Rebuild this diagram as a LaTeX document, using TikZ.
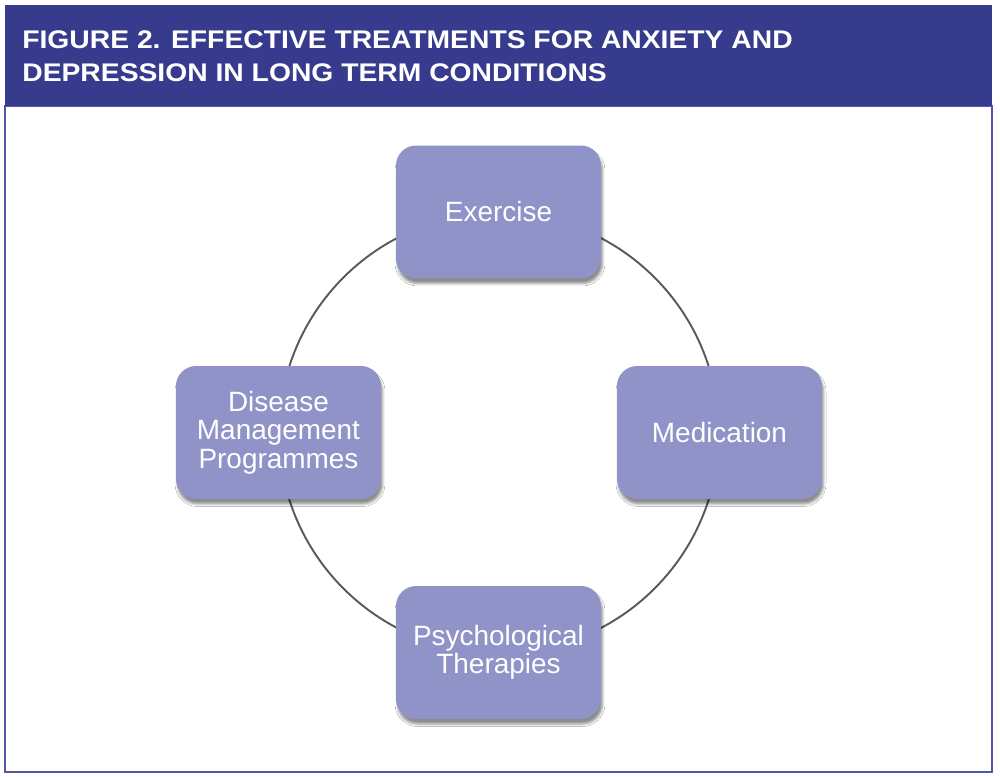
\documentclass[tikz,border=0pt]{standalone}
\usepackage{fontspec}
\setmainfont{Liberation Sans}
\newfontfamily\titlefont[FakeStretch=1.11]{Liberation Sans}
\usetikzlibrary{shadows.blur}
\definecolor{band}{RGB}{55,59,141}
\definecolor{boxfill}{RGB}{143,147,200}
\definecolor{ring}{RGB}{90,90,90}
\definecolor{framec}{RGB}{82,86,165}
\tikzset{
  treat/.style={rounded corners=0.4cm, fill=boxfill, minimum width=4.1cm, minimum height=2.66cm,
    text=white, align=center, font=\fontsize{15.9}{16.2}\selectfont, inner sep=0pt,
    blur shadow={shadow xshift=0.03cm, shadow yshift=-0.1cm, shadow blur radius=0.05cm, shadow opacity=45}},
  titletext/.style={text=white, align=left, font=\titlefont\bfseries\fontsize{14.5}{18.8}\selectfont, inner sep=0pt}
}
\begin{document}
\begin{tikzpicture}[x=0.02cm,y=-0.02cm]
\useasboundingbox (0,0) rectangle (1000,777);
\fill[white] (0,0) rectangle (1000,777);
\draw[framec, line width=1.2pt] (5,106) rectangle (992,772);
\fill[band] (5,5) rectangle (992,106);
\node[titletext, anchor=north west] (title) at (22,30.5) {FIGURE 2. EFFECTIVE TREATMENTS FOR ANXIETY AND\\DEPRESSION IN LONG TERM CONDITIONS};
\coordinate (c) at (499,433);
\draw[ring, line width=1.1pt] (c) circle [radius=4.4cm];
\node[treat] (ex) at (498.5,212) {Exercise};
\node[treat] (med) at (719.5,432.5) {Medication};
\node[treat] (dis) at (278.5,432.5) {Disease\\Management\\Programmes};
\node[treat] (psy) at (498.5,652.5) {Psychological\\Therapies};
\end{tikzpicture}
\end{document}
